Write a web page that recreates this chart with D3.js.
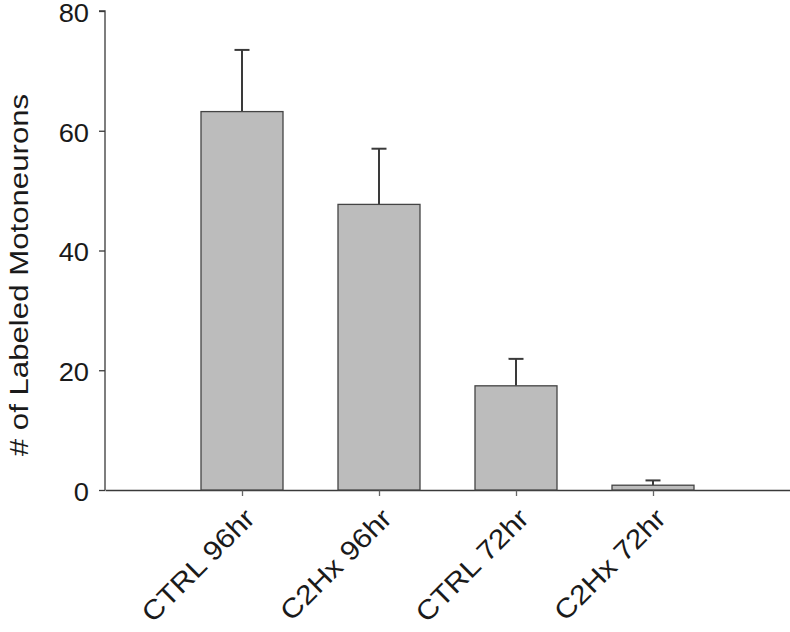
<!DOCTYPE html>
<html>
<head>
<meta charset="utf-8">
<script src="https://cdn.jsdelivr.net/npm/d3@7"></script>
<style>
html,body{margin:0;padding:0;background:#fff;}
svg{display:block;}
text{font-family:"Liberation Sans",Arial,sans-serif;fill:#1a1a1a;}
</style>
</head>
<body>
<svg id="chart" width="790" height="632"></svg>
<script>
const categories = ["CTRL 96hr", "C2Hx 96hr", "CTRL 72hr", "C2Hx 72hr"];
const means = [63.2, 47.7, 17.4, 0.8];
const errors = [10.3, 9.3, 4.5, 0.8];
const yTicks = [0, 20, 40, 60, 80];
const yTitle = "# of Labeled Motoneurons";

const svg = d3.select("#chart");
const x = d3.scaleLinear().domain([0, 5]).range([105, 790]);
const y = d3.scaleLinear().domain([0, 80]).range([490, 11]);
const barW = 82;
const lineCol = "#3a3a3a";
const FONT = "'Liberation Sans',Arial,sans-serif";

// y axis
const yAxis = svg.append("g").attr("transform", "translate(105,0)")
  .call(d3.axisLeft(y).tickValues(yTicks).tickSize(6).tickPadding(10));
yAxis.select(".domain").attr("stroke", lineCol).attr("stroke-width", 1.3).attr("d", `M-6,${y(80)}H0V${y(0)}`);
yAxis.selectAll(".tick line").attr("stroke", lineCol).attr("stroke-width", 1.3);
yAxis.selectAll(".tick text").attr("font-size", 26).style("font-family", FONT).attr("fill", "#1a1a1a")
  .attr("x", 0).attr("dy", "0.36em").attr("transform", "translate(-16,1) scale(1.05,1)");

// x axis
const xAxis = svg.append("g").attr("transform", `translate(0,${y(0)})`)
  .call(d3.axisBottom(x).tickValues([1, 2, 3, 4]).tickFormat((d, i) => categories[i]).tickSize(6).tickSizeOuter(0));
xAxis.select(".domain").attr("stroke", lineCol).attr("stroke-width", 1.3);
xAxis.selectAll(".tick line").attr("stroke", "#666").attr("stroke-width", 1.3);
xAxis.selectAll(".tick text")
  .attr("font-size", 27).style("font-family", FONT).attr("fill", "#1a1a1a")
  .attr("text-anchor", "end").attr("dy", null).attr("y", 0)
  .attr("transform", "translate(14,30) rotate(-45) scale(1.12,1)");

// bars
const bars = svg.append("g");
means.forEach((m, i) => {
  const cx = x(i + 1);
  const top = y(m + errors[i]);
  bars.append("line").attr("x1", cx).attr("x2", cx).attr("y1", y(m)).attr("y2", top)
    .attr("stroke", lineCol).attr("stroke-width", 2);
  bars.append("line").attr("x1", cx - 7.5).attr("x2", cx + 7.5).attr("y1", top).attr("y2", top)
    .attr("stroke", lineCol).attr("stroke-width", 2);
  bars.append("rect").attr("x", cx - barW / 2).attr("y", y(m)).attr("width", barW).attr("height", y(0) - y(m))
    .attr("fill", "#bcbcbc").attr("stroke", "#444").attr("stroke-width", 1.3);
});

// y title
svg.append("text").attr("transform", `translate(28,275) rotate(-90) scale(1.2,1)`)
  .attr("text-anchor", "middle").attr("font-size", 26).text(yTitle);
</script>
</body>
</html>
